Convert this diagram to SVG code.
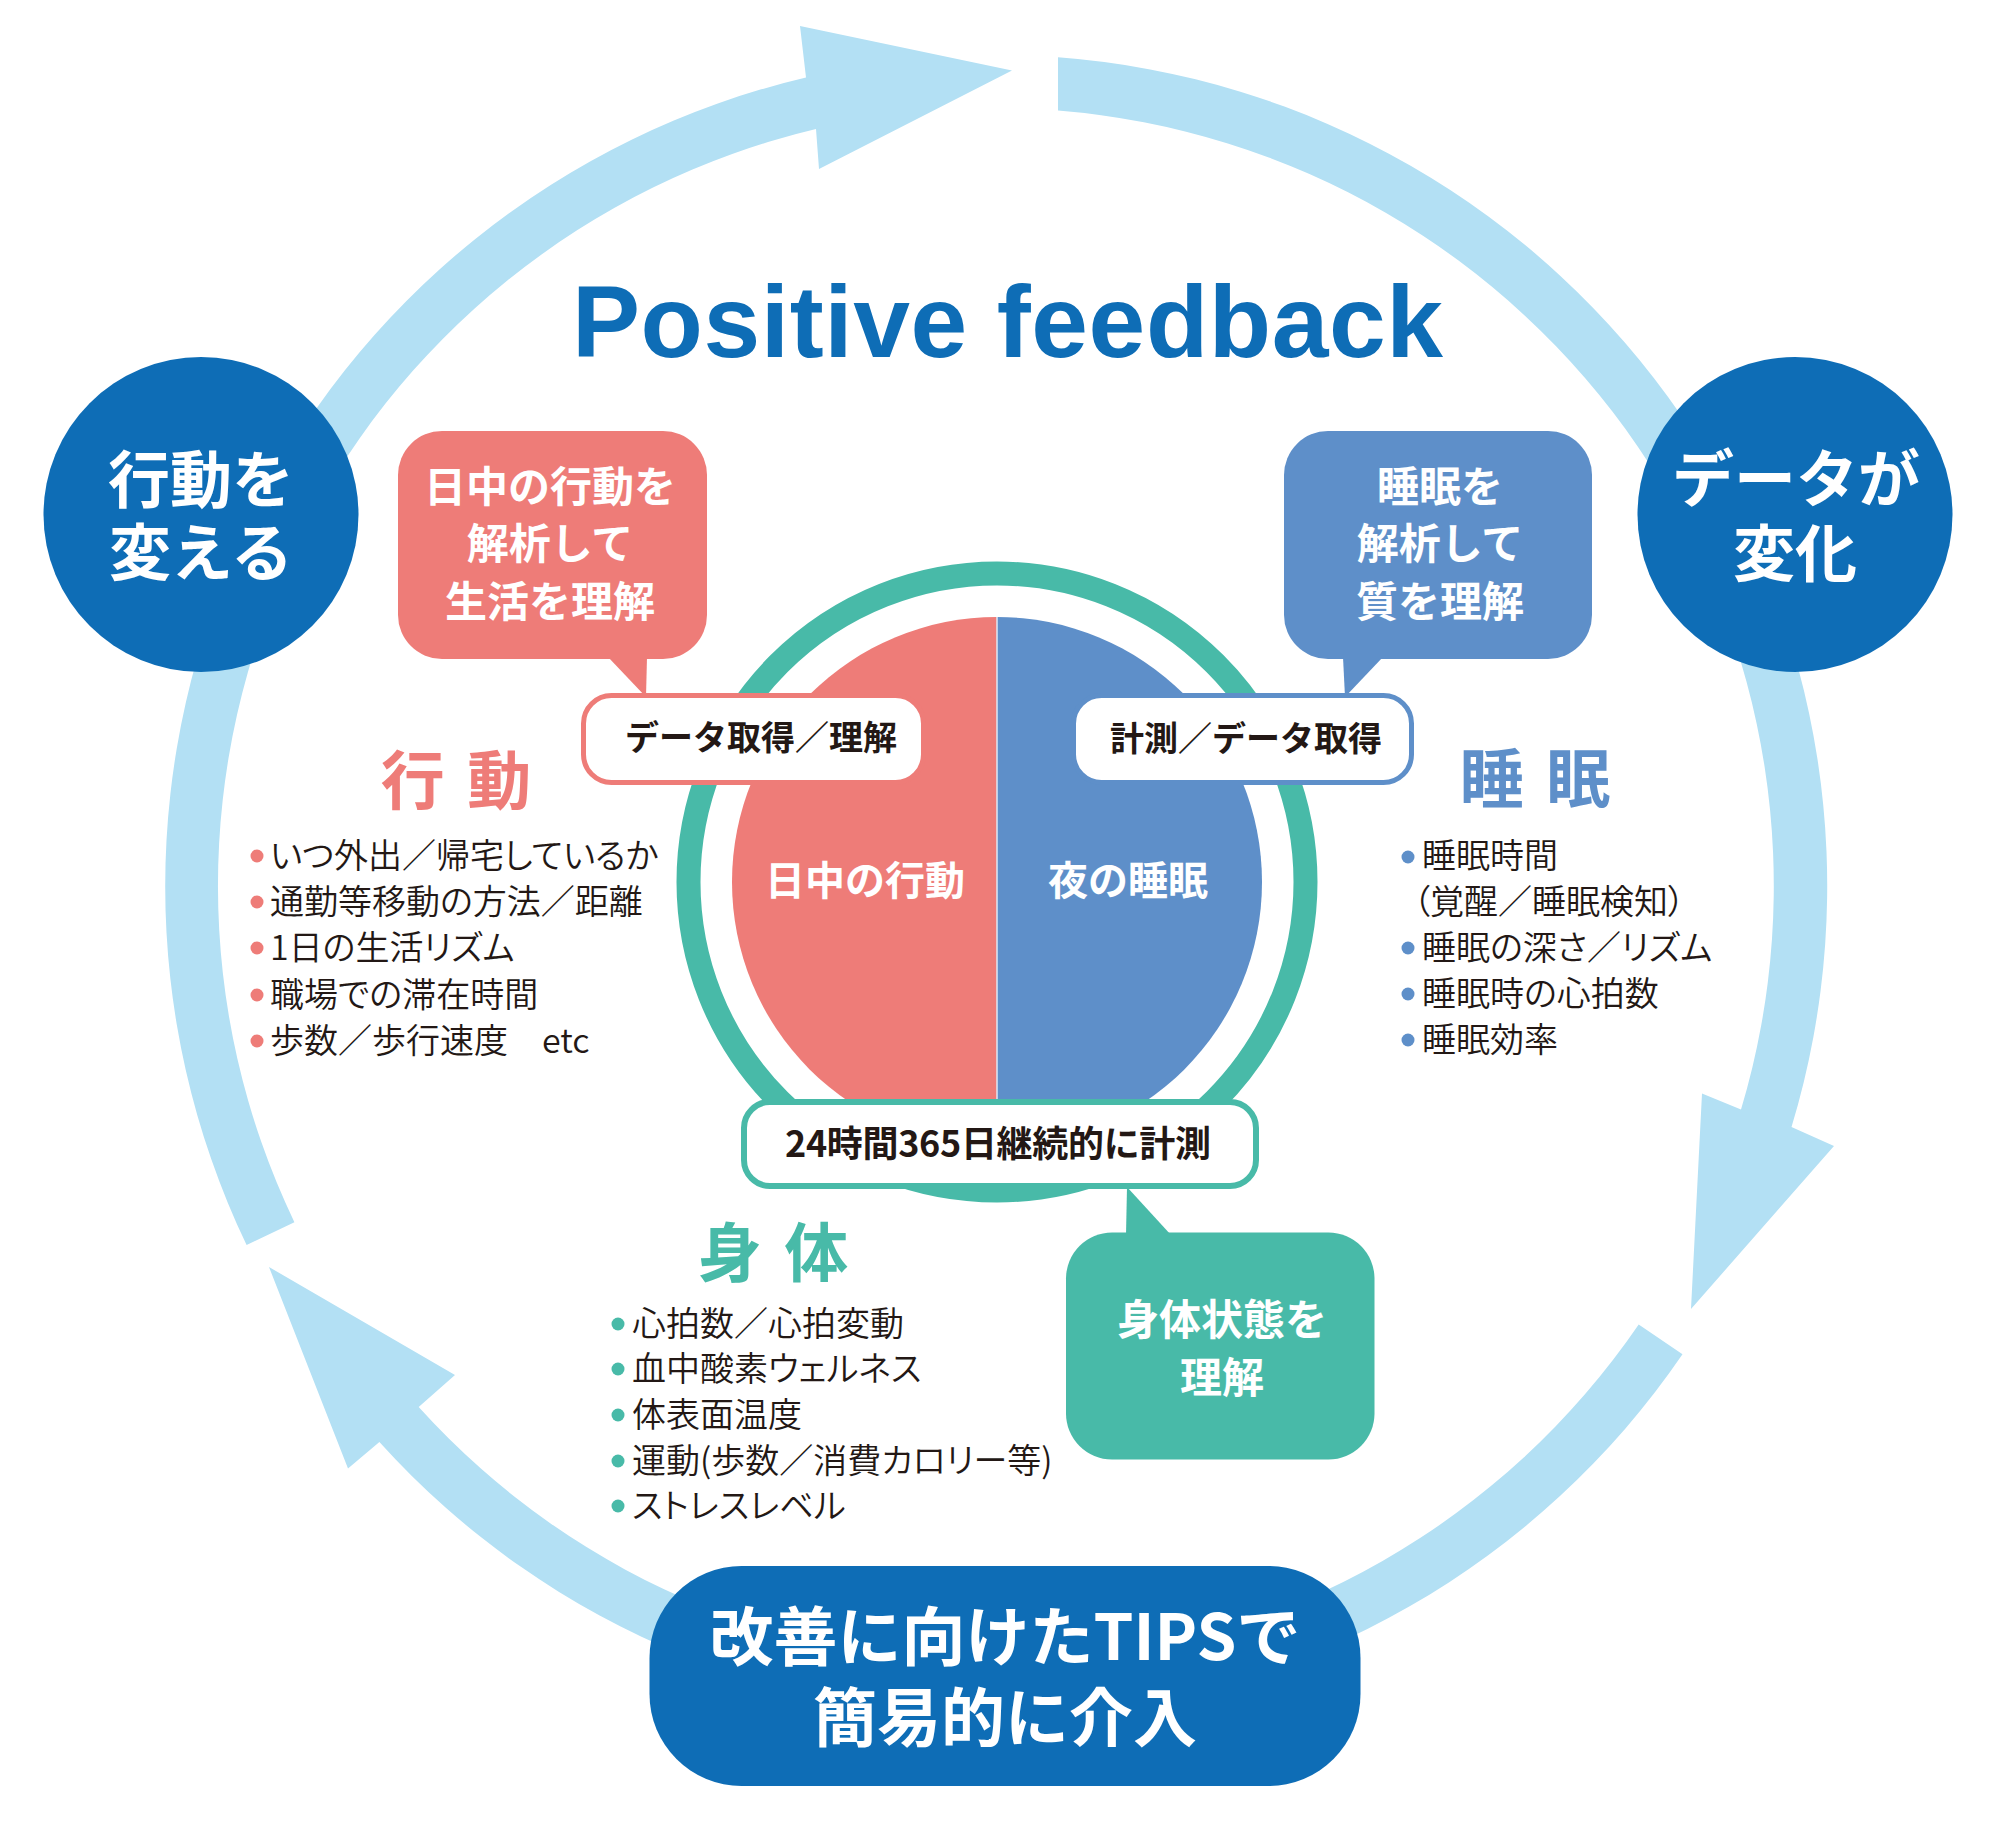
<svg xmlns="http://www.w3.org/2000/svg" width="2000" height="1838" viewBox="0 0 2000 1838">
<style>
.cj{font-family:"Noto Sans CJK JP","Noto Sans CJK SC",sans-serif}
.wb{fill:#ffffff;font-weight:700}
.bk{fill:#231815;font-weight:700}
.lst{font-family:"Noto Sans CJK JP","Noto Sans CJK SC",sans-serif;font-size:34px;font-weight:350;fill:#231815;font-feature-settings:"palt" 1}
.arc{fill:#b3e0f4}
.dark{fill:#0e6db6}
.pink{fill:#ee7c78}
.blue{fill:#5e8fc9}
.teal{fill:#48baa8}
</style>
<rect width="2000" height="1838" fill="#ffffff"/>

<g id="connectors">
  <path class="arc" d="M 246.6 1245.1 A 831 831 0 0 1 806 77.5 L 800 26 L 1012 70.5 L 819 169 L 816 129 A 778 778 0 0 0 294.4 1222.2 Z"/>
  <path class="arc" d="M 1058 57.3 A 831 831 0 0 1 1791.5 1127 L 1834 1146 L 1691 1309 L 1702 1093.5 L 1741 1109.5 A 778 778 0 0 0 1058 110.5 Z"/>
  <path class="arc" d="M 1682.5 1354.3 A 831 831 0 0 1 379.4 1442 L 348 1468.6 L 269 1267 L 455 1375 L 418.7 1407 A 778 778 0 0 0 1638.7 1324.4 Z"/>
</g>

<text x="572" y="356.5" textLength="871" lengthAdjust="spacing" font-family="'Liberation Sans',Arial,sans-serif" font-weight="700" font-size="102" fill="#0e6db6">Positive feedback</text>

<g id="node-kodo-kaeru">
  <circle class="dark" cx="201" cy="514.5" r="157.5"/>
  <text class="cj wb" font-size="62" text-anchor="middle"><tspan x="201" y="503">行動を</tspan><tspan x="201" y="576">変える</tspan></text>
</g>

<g id="node-data-henka">
  <circle class="dark" cx="1795" cy="514.5" r="157.5"/>
  <text class="cj wb" font-size="62" text-anchor="middle"><tspan x="1796" y="502">データが</tspan><tspan x="1795" y="577">変化</tspan></text>
</g>

<g id="node-tips">
  <rect class="dark" x="649.5" y="1566" width="711" height="220" rx="92"/>
  <text class="cj wb" font-size="64" text-anchor="middle"><tspan x="1005" y="1660">改善に向けたTIPSで</tspan><tspan x="1005" y="1741">簡易的に介入</tspan></text>
</g>

<g id="node-center">
  <circle cx="997" cy="882" r="308.5" fill="none" stroke="#48baa8" stroke-width="24"/>
  <path class="pink" d="M 997 617 A 265 265 0 0 0 997 1147 Z"/>
  <path class="blue" d="M 997 617 A 265 265 0 0 1 997 1147 Z"/>
  <line x1="997" y1="617" x2="997" y2="1147" stroke="#dfe8f5" stroke-width="1.5"/>
  <text class="cj wb" x="865" y="895" font-size="40" text-anchor="middle">日中の行動</text>
  <text class="cj wb" x="1128" y="895" font-size="40" text-anchor="middle">夜の睡眠</text>
</g>

<g id="node-bubble-kodo">
  <rect class="pink" x="398" y="431" width="309" height="228" rx="44"/>
  <polygon class="pink" points="608,657 647,657 646,697"/>
  <text class="cj wb" font-size="42" text-anchor="middle"><tspan x="550" y="502">日中の行動を</tspan><tspan x="550" y="559">解析して</tspan><tspan x="550" y="617">生活を理解</tspan></text>
</g>

<g id="node-bubble-suimin">
  <rect class="blue" x="1284" y="431" width="308" height="228" rx="44"/>
  <polygon class="blue" points="1343,657 1383,657 1345,697"/>
  <text class="cj wb" font-size="42" text-anchor="middle"><tspan x="1440" y="502">睡眠を</tspan><tspan x="1440" y="559">解析して</tspan><tspan x="1440" y="617">質を理解</tspan></text>
</g>

<g id="node-bubble-shintai">
  <rect class="teal" x="1066" y="1232.5" width="308.5" height="227" rx="46"/>
  <polygon class="teal" points="1126,1235 1171,1235 1127,1187"/>
  <text class="cj wb" font-size="42" text-anchor="middle"><tspan x="1222" y="1335">身体状態を</tspan><tspan x="1222" y="1393">理解</tspan></text>
</g>

<g id="node-box-kodo">
  <rect x="583.5" y="695.5" width="340" height="87" rx="28" fill="#ffffff" stroke="#ee7c78" stroke-width="5"/>
  <text class="cj bk" x="761" y="750" font-size="34" text-anchor="middle">データ取得／理解</text>
</g>

<g id="node-box-suimin">
  <rect x="1073.5" y="695.5" width="338" height="87" rx="28" fill="#ffffff" stroke="#5e8fc9" stroke-width="5"/>
  <text class="cj bk" x="1246" y="751" font-size="34" text-anchor="middle">計測／データ取得</text>
</g>

<g id="node-box-24">
  <rect x="744" y="1102" width="512" height="84" rx="26" fill="#ffffff" stroke="#48baa8" stroke-width="6"/>
  <text class="cj bk" x="785" y="1157" font-size="36" textLength="426" lengthAdjust="spacing">24時間365日継続的に計測</text>
</g>

<g id="node-list-kodo">
  <text class="cj" x="458" y="804" font-size="64" font-weight="700" fill="#ee7c78" text-anchor="middle" letter-spacing="4">行 動</text>
  <g class="pink">
    <circle cx="257" cy="856" r="6.5"/>
    <circle cx="257" cy="902" r="6.5"/>
    <circle cx="257" cy="948" r="6.5"/>
    <circle cx="257" cy="995" r="6.5"/>
    <circle cx="257" cy="1041" r="6.5"/>
  </g>
  <text class="lst" x="270" y="868">いつ外出／帰宅しているか</text>
  <text class="lst" x="270" y="914">通勤等移動の方法／距離</text>
  <text class="lst" x="270" y="960">1日の生活リズム</text>
  <text class="lst" x="270" y="1007">職場での滞在時間</text>
  <text class="lst" x="270" y="1053">歩数／歩行速度　etc</text>
</g>

<g id="node-list-suimin">
  <text class="cj" x="1537" y="802" font-size="64" font-weight="700" fill="#5e8fc9" text-anchor="middle" letter-spacing="4">睡 眠</text>
  <g class="blue">
    <circle cx="1408" cy="857" r="6.5"/>
    <circle cx="1408" cy="948" r="6.5"/>
    <circle cx="1408" cy="994" r="6.5"/>
    <circle cx="1408" cy="1040" r="6.5"/>
  </g>
  <text class="lst" x="1422" y="868">睡眠時間</text>
  <text class="lst" x="1413" y="914">（覚醒／睡眠検知）</text>
  <text class="lst" x="1422" y="960">睡眠の深さ／リズム</text>
  <text class="lst" x="1422" y="1006">睡眠時の心拍数</text>
  <text class="lst" x="1422" y="1052">睡眠効率</text>
</g>

<g id="node-list-shintai">
  <text class="cj" x="775" y="1276" font-size="64" font-weight="700" fill="#48baa8" text-anchor="middle" letter-spacing="4">身 体</text>
  <g class="teal">
    <circle cx="618" cy="1324" r="6.5"/>
    <circle cx="618" cy="1369" r="6.5"/>
    <circle cx="618" cy="1415" r="6.5"/>
    <circle cx="618" cy="1461" r="6.5"/>
    <circle cx="618" cy="1506" r="6.5"/>
  </g>
  <text class="lst" x="632" y="1336">心拍数／心拍変動</text>
  <text class="lst" x="632" y="1381">血中酸素ウェルネス</text>
  <text class="lst" x="632" y="1427">体表面温度</text>
  <text class="lst" x="632" y="1473">運動(歩数／消費カロリー等)</text>
  <text class="lst" x="632" y="1518">ストレスレベル</text>
</g>
</svg>
